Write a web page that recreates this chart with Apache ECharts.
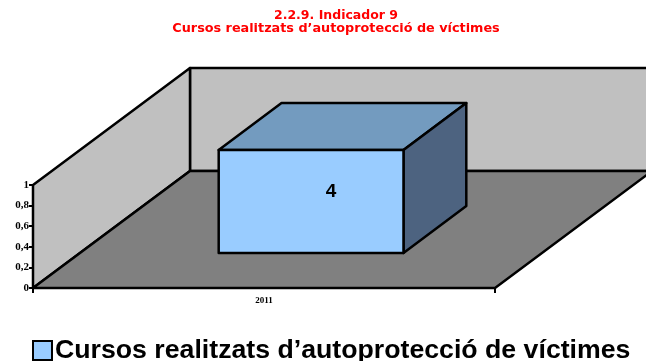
<!DOCTYPE html>
<html>
<head>
<meta charset="utf-8">
<script src="https://cdn.jsdelivr.net/npm/echarts@6/dist/echarts.min.js"></script>
<style>html,body{margin:0;padding:0;background:#fff}#c{width:646px;height:361px}</style>
</head>
<body>
<div id="c"></div>
<script>
var categories = ['2011'];
var seriesName = 'Cursos realitzats d\u2019autoprotecció de víctimes';
var values = [4];
var yTicks = [0, 0.2, 0.4, 0.6, 0.8, 1];
var titleLine1 = '2.2.9. Indicador 9';
var titleLine2 = 'Cursos realitzats d\u2019autoprotecció de víctimes';

var DX = 157, DY = -117;          // depth projection (pixels)
var FRONT = 0.3, BACK = 0.7, BARW = 0.4;
var yMax = yTicks[yTicks.length - 1];

var chart = echarts.init(document.getElementById('c'));
chart.setOption({
  animation: false,
  title: [
    {text: titleLine1, left: 331, textAlign: 'center', top: 4,
     textStyle: {color: '#ff0000', fontFamily: 'DejaVu Sans', fontWeight: 'bold', fontSize: 12.5}},
    {text: titleLine2, left: 331, textAlign: 'center', top: 17,
     textStyle: {color: '#ff0000', fontFamily: 'DejaVu Sans', fontWeight: 'bold', fontSize: 12.8}}
  ],
  legend: {
    data: [seriesName], left: 27, top: 332, itemWidth: 19, itemHeight: 19, itemGap: 4,
    icon: 'rect',
    itemStyle: {borderColor: '#000', borderWidth: 2},
    textStyle: {fontFamily: 'Liberation Sans', fontWeight: 'bold', fontSize: 26.7, color: '#000', padding: [0,0,0,-2]}
  },
  grid: {left: 33, right: 151, top: 185, bottom: 73, containLabel: false},
  xAxis: {
    type: 'category', data: categories, boundaryGap: true,
    axisLine: {lineStyle: {color: '#000', width: 2}},
    axisTick: {show: true, length: 5, lineStyle: {color: '#000', width: 2}},
    axisLabel: {margin: 8, fontFamily: 'Liberation Serif', fontWeight: 'bold', fontSize: 9, color: '#000'}
  },
  yAxis: {
    type: 'value', min: 0, max: yMax, interval: 0.2,
    splitLine: {show: false},
    axisLine: {show: true, lineStyle: {color: '#000', width: 2}},
    axisTick: {show: true, length: 4, lineStyle: {color: '#000', width: 2}},
    axisLabel: {margin: 4, fontFamily: 'Liberation Serif', fontWeight: 'bold', fontSize: 11, color: '#000',
      formatter: function (v) { return String(Math.round(v * 10) / 10).replace('.', ','); }}
  },
  series: [
    {
      type: 'custom', name: 'walls', silent: true, clip: false, z: 1,
      data: [[0]],
      renderItem: function (params, api) {
        var cs = params.coordSys;
        var x0 = cs.x, x1 = cs.x + cs.width;
        var yb = api.coord([0, 0])[1], yt = api.coord([0, yMax])[1];
        var st = {stroke: '#000', lineWidth: 2.5, lineJoin: 'round'};
        function poly(pts, fill) {
          return {type: 'polygon', shape: {points: pts}, style: Object.assign({fill: fill}, st)};
        }
        return {type: 'group', children: [
          poly([[x0 + DX, yt + DY], [x1 + DX, yt + DY], [x1 + DX, yb + DY], [x0 + DX, yb + DY]], '#c0c0c0'),
          poly([[x0, yb], [x0, yt], [x0 + DX, yt + DY], [x0 + DX, yb + DY]], '#c0c0c0'),
          poly([[x0, yb], [x1, yb], [x1 + DX, yb + DY], [x0 + DX, yb + DY]], '#808080')
        ]};
      }
    },
    {
      type: 'custom', name: seriesName, clip: false, z: 2,
      itemStyle: {color: '#99ccff'},
      data: values.map(function (v, i) { return [i, v]; }),
      renderItem: function (params, api) {
        var i = api.value(0), v = api.value(1);
        var vc = Math.min(v, yMax);
        var base = api.coord([i, 0]), top = api.coord([i, vc]);
        var w = api.size([1, 0])[0] * BARW;
        var cx = base[0];
        var xl = cx - w / 2, xr = cx + w / 2, yb = base[1], yt = top[1];
        function P(x, y, d) { return [x + DX * d, y + DY * d]; }
        var st = {stroke: '#000', lineWidth: 2.5, lineJoin: 'round'};
        function poly(pts, fill) {
          return {type: 'polygon', shape: {points: pts}, style: Object.assign({fill: fill}, st)};
        }
        var fc = P(cx, (yb + yt) / 2, FRONT);
        return {type: 'group', children: [
          poly([P(xl, yt, FRONT), P(xr, yt, FRONT), P(xr, yt, BACK), P(xl, yt, BACK)], '#739bbf'),
          poly([P(xr, yb, FRONT), P(xr, yt, FRONT), P(xr, yt, BACK), P(xr, yb, BACK)], '#4d6380'),
          poly([P(xl, yb, FRONT), P(xr, yb, FRONT), P(xr, yt, FRONT), P(xl, yt, FRONT)], '#99ccff'),
          {type: 'text', x: fc[0] + 20, y: fc[1] - 10,
           style: {text: String(v), fill: '#000', font: 'bold 19px "Liberation Sans"', align: 'center', verticalAlign: 'middle'}}
        ]};
      }
    }
  ]
});
</script>
</body>
</html>
